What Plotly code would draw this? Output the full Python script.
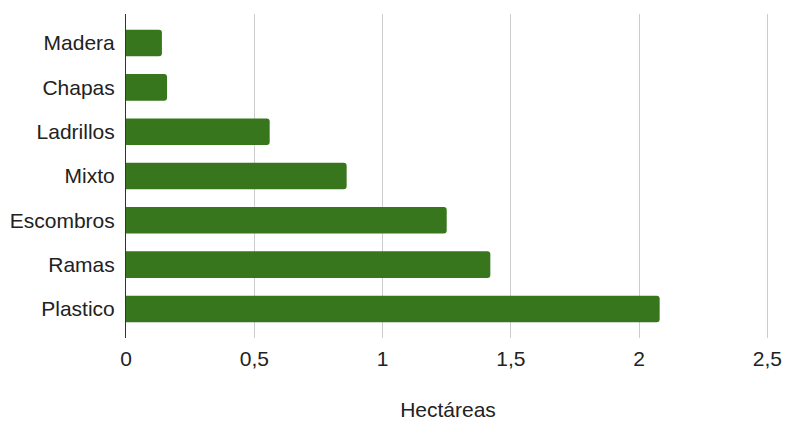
import plotly.graph_objects as go

# Superficie ocupada por tipo de residuo (hectáreas)
categories = ["Madera", "Chapas", "Ladrillos", "Mixto", "Escombros", "Ramas", "Plastico"]
hectareas = [0.14, 0.16, 0.56, 0.86, 1.25, 1.42, 2.08]
x_ticks = [0, 0.5, 1, 1.5, 2, 2.5]

BAR_COLOR = "#38761d"
TEXT_COLOR = "#222222"
FONT = "Liberation Sans, Arial, sans-serif"

fig = go.Figure(
    go.Bar(
        x=hectareas,
        y=categories,
        orientation="h",
        marker=dict(color=BAR_COLOR, line=dict(width=0)),
        hoverinfo="x+y",
    )
)

fig.update_layout(
    width=787,
    height=421,
    margin=dict(l=126, r=17, t=14, b=83),
    paper_bgcolor="white",
    plot_bgcolor="white",
    separators=",.",
    bargap=0.4,
    barcornerradius=3,
    showlegend=False,
    font=dict(family=FONT, size=21, color=TEXT_COLOR),
)

# the upper bound sits slightly past 2.5 so the last gridline is still drawn
fig.update_xaxes(
    range=[0, 2.51],
    tickvals=x_ticks,
    automargin=False,
    showgrid=True,
    gridcolor="#cccccc",
    gridwidth=1,
    zeroline=False,
    showline=False,
    ticks="outside",
    ticklen=2,
    tickcolor="rgba(0,0,0,0)",
    tickfont=dict(size=21, color=TEXT_COLOR),
    title=dict(text="Hectáreas", font=dict(size=21, color=TEXT_COLOR), standoff=39),
)

fig.update_yaxes(
    type="category",
    categoryorder="array",
    categoryarray=categories,
    range=[6.655, -0.655],
    automargin=False,
    showgrid=False,
    zeroline=False,
    showline=True,
    linecolor="#333333",
    linewidth=1,
    ticks="outside",
    ticklen=6,
    tickcolor="rgba(0,0,0,0)",
    tickfont=dict(size=21, color=TEXT_COLOR),
)

fig.write_html("out.html")
